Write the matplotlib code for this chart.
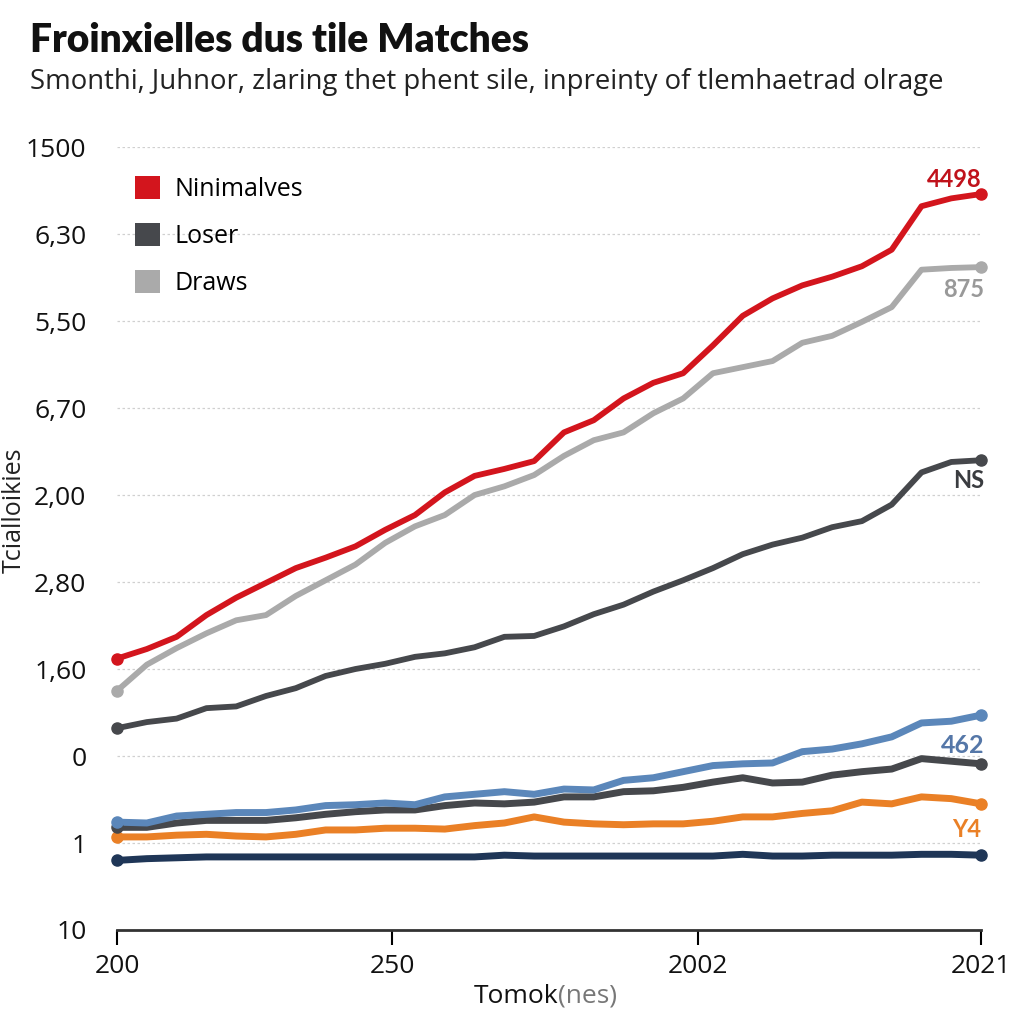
import matplotlib
matplotlib.use("Agg")
import matplotlib.pyplot as plt
from matplotlib.patches import Patch

plt.rcParams['font.family'] = ['Open Sans', 'Noto Sans', 'DejaVu Sans']

# ---- data (y in axis-position units; labels below are the printed ones) ----
periods = list(range(30))
x_tick_pos = [0, 9.23, 19.5, 29]
x_tick_labels = ["200", "250", "2002", "2021"]
y_tick_pos = [0, 1, 2, 3, 4, 5, 6, 7, 8, 9]
y_tick_labels = ["10", "1", "0", "1,60", "2,80", "2,00", "6,70", "5,50", "6,30", "1500"]

wins = [3.12, 3.23, 3.37, 3.62, 3.82, 3.99, 4.16, 4.28, 4.41, 4.60,
        4.77, 5.03, 5.22, 5.30, 5.39, 5.72, 5.86, 6.11, 6.29, 6.40,
        6.72, 7.06, 7.26, 7.41, 7.51, 7.63, 7.82, 8.32, 8.41, 8.46]
draws = [2.75, 3.05, 3.24, 3.41, 3.56, 3.62, 3.84, 4.02, 4.20, 4.45,
         4.64, 4.77, 5.00, 5.10, 5.23, 5.45, 5.63, 5.72, 5.94, 6.11,
         6.40, 6.47, 6.54, 6.75, 6.83, 6.99, 7.16, 7.59, 7.61, 7.62]
losses = [2.32, 2.39, 2.43, 2.55, 2.57, 2.69, 2.78, 2.92, 3.00, 3.06,
          3.14, 3.18, 3.25, 3.37, 3.38, 3.49, 3.63, 3.74, 3.89, 4.02,
          4.16, 4.32, 4.43, 4.51, 4.63, 4.70, 4.89, 5.26, 5.38, 5.40]
blue_s = [1.24, 1.23, 1.31, 1.33, 1.35, 1.35, 1.38, 1.43, 1.44, 1.46,
          1.44, 1.53, 1.56, 1.59, 1.56, 1.62, 1.61, 1.72, 1.75, 1.82,
          1.89, 1.91, 1.92, 2.05, 2.08, 2.14, 2.22, 2.38, 2.40, 2.47]
dark2_s = [1.18, 1.18, 1.23, 1.26, 1.26, 1.26, 1.29, 1.33, 1.36, 1.38,
           1.38, 1.43, 1.46, 1.45, 1.47, 1.53, 1.53, 1.59, 1.60, 1.64,
           1.70, 1.75, 1.69, 1.70, 1.78, 1.82, 1.85, 1.97, 1.94, 1.91]
orange_s = [1.07, 1.07, 1.09, 1.10, 1.08, 1.07, 1.10, 1.15, 1.15, 1.17,
            1.17, 1.16, 1.20, 1.23, 1.30, 1.24, 1.22, 1.21, 1.22, 1.22,
            1.25, 1.30, 1.30, 1.34, 1.37, 1.47, 1.45, 1.53, 1.51, 1.45]
navy_s = [0.80, 0.82, 0.83, 0.84, 0.84, 0.84, 0.84, 0.84, 0.84, 0.84,
          0.84, 0.84, 0.84, 0.86, 0.85, 0.85, 0.85, 0.85, 0.85, 0.85,
          0.85, 0.87, 0.85, 0.85, 0.86, 0.86, 0.86, 0.87, 0.87, 0.86]

end_labels = ["4498", "875", "NS", "462", "Y4"]
legend_names = ["Ninimalves", "Loser", "Draws"]

RED = "#d3151d"
GREY = "#aaaaaa"
DARK = "#46484c"
BLUE = "#5b87ba"
ORANGE = "#ea8026"
NAVY = "#1f3657"

BOLD = ['Lato', 'Open Sans', 'DejaVu Sans']

fig = plt.figure(figsize=(10.24, 10.24), dpi=100)
fig.patch.set_facecolor("white")
ax = fig.add_axes([0.1143, 0.0918, 0.8438, 0.7646])

series = [
    (navy_s, NAVY, 5.0),
    (orange_s, ORANGE, 5.0),
    (dark2_s, DARK, 5.0),
    (blue_s, BLUE, 5.0),
    (losses, DARK, 4.2),
    (draws, GREY, 4.2),
    (wins, RED, 4.2),
]
for ys, c, lw in series:
    ax.plot(periods, ys, color=c, lw=lw, solid_joinstyle="round",
            solid_capstyle="round", clip_on=False, zorder=3)
    ax.plot([periods[0], periods[-1]], [ys[0], ys[-1]], "o", color=c,
            ms=8, clip_on=False, zorder=4)

ax.set_xlim(0, 29)
ax.set_ylim(0, 9)

ax.set_yticks(y_tick_pos)
ax.set_yticklabels(y_tick_labels)
ax.set_xticks(x_tick_pos)
ax.set_xticklabels(x_tick_labels)
ax.tick_params(axis="y", length=0, pad=22, labelsize=19, labelcolor="#111111")
ax.tick_params(axis="x", direction="out", length=11, width=1.5, pad=6,
               labelsize=19, labelcolor="#111111")

for s in ["left", "right", "top"]:
    ax.spines[s].set_visible(False)
ax.spines["bottom"].set_linewidth(2)
ax.spines["bottom"].set_color("#333333")

ax.grid(axis="y", color="#d0d0d0", linestyle=(0, (2, 2)), lw=0.9)
ax.set_axisbelow(True)

# end labels
ax.text(29, wins[-1] + 0.04, end_labels[0], color="#c0121b", fontsize=17,
        fontweight="bold", family=BOLD, ha="right", va="bottom")
ax.text(29.1, draws[-1] - 0.13, end_labels[1], color="#999999", fontsize=17,
        fontweight="bold", family=BOLD, ha="right", va="top")
ax.text(29.1, losses[-1] - 0.10, end_labels[2], color="#3a3c40", fontsize=17,
        fontweight="bold", family=BOLD, ha="right", va="top")
ax.text(29.1, blue_s[-1] - 0.22, end_labels[3], color="#5577a8", fontsize=18,
        fontweight="bold", family=BOLD, ha="right", va="top")
ax.text(29.0, orange_s[-1] - 0.16, end_labels[4], color=ORANGE, fontsize=17,
        fontweight="bold", family=BOLD, ha="right", va="top")

# legend
handles = [Patch(facecolor=RED, edgecolor="none"),
           Patch(facecolor=DARK, edgecolor="none"),
           Patch(facecolor=GREY, edgecolor="none")]
leg = ax.legend(handles, legend_names, loc="upper left",
                bbox_to_anchor=(0.0, 0.985), frameon=False, fontsize=18,
                handlelength=1.0, handleheight=1.0, handletextpad=0.6,
                labelspacing=0.85, borderaxespad=0.3)

# axis labels
fig.text(0.545, 0.027, "Tomok", fontsize=19, ha="right", va="center",
         color="#111111")
fig.text(0.545, 0.027, "(nes)", fontsize=19, ha="left", va="center",
         color="#777777")
fig.text(0.002, 0.502, "Tcialloikies", fontsize=18, rotation=90,
         ha="left", va="center", color="#222222")

# title & subtitle
fig.text(0.029, 0.960, "Froinxielles dus tile Matches", fontsize=28,
         fontweight="heavy", family=BOLD, ha="left", va="center", color="#111111")
fig.text(0.029, 0.920,
         "Smonthi, Juhnor, zlaring thet phent sile, inpreinty of tlemhaetrad olrage",
         fontsize=19.8, ha="left", va="center", color="#222222")

fig.savefig("out.png", dpi=100, facecolor="white")
